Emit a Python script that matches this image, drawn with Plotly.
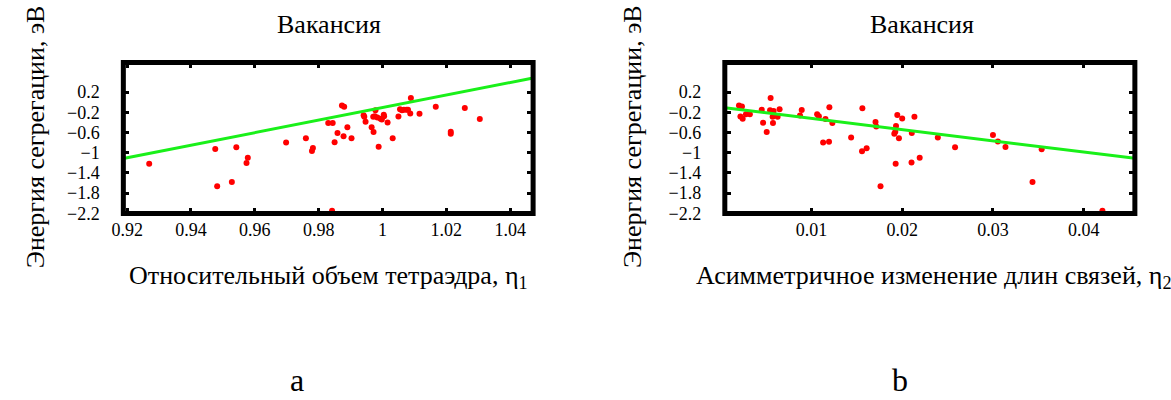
import plotly.graph_objects as go

# ---------------- data ----------------
# panel a: relative tetrahedron volume eta1 vs segregation energy
eta1 = [0.9269, 0.9476, 0.9482, 0.9528, 0.9542, 0.9578, 0.9574, 0.9698, 0.9760, 0.9782,
        0.9779, 0.9830, 0.9844, 0.9850, 0.9859, 0.9873, 0.9880, 0.9878, 0.9890, 0.9903,
        0.9842, 0.9941, 0.9943, 0.9947, 0.9966, 0.9972, 0.9978, 0.9971, 0.9976, 0.9984,
        0.9988, 0.9994, 0.9998, 1.0004, 1.0005, 1.0016, 1.0032, 1.0050, 1.0055, 1.0061,
        1.0067, 1.0075, 1.0080, 1.0089, 1.0087, 1.0116, 1.0167, 1.0214, 1.0214, 1.0258,
        1.0305, 0.9175, 1.0485]
energy_a = [-1.221, -0.925, -1.665, -1.582, -0.893, -1.099, -1.202, -0.796, -0.713, -0.906,
            -0.964, -0.410, -0.410, -0.790, -0.611, -0.063, -0.090, -0.675, -0.493, -0.712,
            -2.150, -0.256, -0.288, -0.385, -0.493, -0.591, -0.159, -0.288, -0.276, -0.302,
            -0.881, -0.327, -0.340, -0.249, -0.276, -0.399, -0.712, -0.282, -0.140, -0.159,
            -0.147, -0.147, -0.147, 0.084, -0.223, -0.230, -0.087, -0.585, -0.624, -0.115,
            -0.333, -2.235, -0.790]

# panel b: asymmetric bond-length change eta2 vs segregation energy
eta2 = [0.00199, 0.00232, 0.00215, 0.00240, 0.00276, 0.00319, 0.00450, 0.00465, 0.00505, 0.00548,
        0.00542, 0.00581, 0.00570, 0.00574, 0.00625, 0.00647, 0.00872, 0.00891, 0.01061, 0.01080,
        0.01127, 0.01153, 0.01192, 0.01196, 0.01229, 0.01436, 0.01556, 0.01560, 0.01607, 0.01705,
        0.01713, 0.01760, 0.01912, 0.01923, 0.01931, 0.01927, 0.01945, 0.01963, 0.01999, 0.02102,
        0.02105, 0.02134, 0.02192, 0.02392, 0.02582, 0.03000, 0.03054, 0.03138, 0.03436, 0.03537,
        0.04207, 0.01550, 0.00000]
energy_b = [-0.063, -0.082, -0.282, -0.327, -0.237, -0.237, -0.147, -0.404, -0.591, 0.084,
            -0.159, -0.173, -0.288, -0.410, -0.288, -0.140, -0.263, -0.153, -0.237, -0.275,
            -0.796, -0.333, -0.785, -0.101, -0.410, -0.700, -0.971, -0.121, -0.913, -0.391,
            -0.481, -1.665, -0.622, -0.584, -0.469, -1.221, -0.250, -0.713, -0.321, -1.196,
            -0.611, -0.288, -1.099, -0.700, -0.893, -0.649, -0.777, -0.887, -1.582, -0.931,
            -2.150, -2.235, -0.321]

# linear fits: energy = intercept + slope * eta
fit_a = {"intercept": -12.526, "slope": 12.42}
fit_b = {"intercept": -0.099, "slope": -22.17}

# axis ranges
xrange_a = [0.9188, 1.0472]
xrange_b = [0.00043, 0.04565]
yrange = [-2.205, 0.79]

# tick labels
xticks_a = [0.92, 0.94, 0.96, 0.98, 1.0, 1.02, 1.04]
xticktext_a = ["0.92", "0.94", "0.96", "0.98", "1", "1.02", "1.04"]
xticks_b = [0.01, 0.02, 0.03, 0.04]
xticktext_b = ["0.01", "0.02", "0.03", "0.04"]
yticks = [0.2, -0.2, -0.6, -1.0, -1.4, -1.8, -2.2]
yticktext = ["0.2", "\u22120.2", "\u22120.6", "\u22121", "\u22121.4", "\u22121.8", "\u22122.2"]

title_text = "Вакансия"
ylabel = "Энергия сегрегации, эВ"
xlabel_a = "Относительный объем тетраэдра, η<sub>1</sub>"
xlabel_b = "Асимметричное изменение длин связей, η<sub>2</sub>"
panel_labels = ["a", "b"]

# ---------------- figure ----------------
W, H = 1171, 400
FONT = "Liberation Serif, Times New Roman, serif"
RED = "#ff0000"
GREEN = "#19f019"


def fx(px):
    return px / W


def fy(py):
    return 1 - py / H


dom_ax = [fx(112.5), fx(526.5)]
dom_bx = [fx(720.2), fx(1134.5)]
dom_y = [fy(219.0), fy(64.0)]

fig = go.Figure()

fig.add_trace(go.Scatter(x=eta1, y=energy_a, mode="markers", xaxis="x", yaxis="y",
                         marker=dict(color=RED, size=6, line=dict(width=0)), showlegend=False))
fig.add_trace(go.Scatter(x=xrange_a,
                         y=[fit_a["intercept"] + fit_a["slope"] * v for v in xrange_a],
                         mode="lines", xaxis="x", yaxis="y",
                         line=dict(color=GREEN, width=3), showlegend=False))

fig.add_trace(go.Scatter(x=eta2, y=energy_b, mode="markers", xaxis="x2", yaxis="y2",
                         marker=dict(color=RED, size=6, line=dict(width=0)), showlegend=False))
fig.add_trace(go.Scatter(x=xrange_b,
                         y=[fit_b["intercept"] + fit_b["slope"] * v for v in xrange_b],
                         mode="lines", xaxis="x2", yaxis="y2",
                         line=dict(color=GREEN, width=3), showlegend=False))

# empty traces so the overlay (inside-tick) axes exist
for xa, ya in (("x3", "y3"), ("x4", "y4")):
    fig.add_trace(go.Scatter(x=[], y=[], xaxis=xa, yaxis=ya, showlegend=False,
                             hoverinfo="skip"))

tickfont = dict(family=FONT, size=18, color="black")
# label axes: transparent outside ticks act as spacing for the labels
label_ax = dict(showgrid=False, zeroline=False, showline=False, ticks="outside",
                tickcolor="rgba(0,0,0,0)", tickwidth=1, tickfont=tickfont,
                fixedrange=True)
# tick axes: visible inside ticks on all four sides, no labels
tick_ax = dict(showgrid=False, zeroline=False, showline=False, ticks="inside",
               ticklen=6, tickwidth=3, tickcolor="black", mirror="ticks",
               showticklabels=False, fixedrange=True)

fig.update_layout(
    width=W, height=H,
    margin=dict(l=0, r=0, t=0, b=0),
    paper_bgcolor="white", plot_bgcolor="white",
    xaxis=dict(domain=dom_ax, range=xrange_a, anchor="y", tickvals=xticks_a,
               ticktext=xticktext_a, ticklen=0, **label_ax),
    yaxis=dict(domain=dom_y, range=yrange, anchor="x", tickvals=yticks,
               ticktext=yticktext, ticklen=19, **label_ax),
    xaxis2=dict(domain=dom_bx, range=xrange_b, anchor="y2", tickvals=xticks_b,
                ticktext=xticktext_b, ticklen=0, **label_ax),
    yaxis2=dict(domain=dom_y, range=yrange, anchor="x2", tickvals=yticks,
                ticktext=yticktext, ticklen=19, **label_ax),
    xaxis3=dict(overlaying="x", range=xrange_a, anchor="y", tickvals=xticks_a, **tick_ax),
    yaxis3=dict(overlaying="y", range=yrange, anchor="x", tickvals=yticks, **tick_ax),
    xaxis4=dict(overlaying="x2", range=xrange_b, anchor="y2", tickvals=xticks_b, **tick_ax),
    yaxis4=dict(overlaying="y2", range=yrange, anchor="x2", tickvals=yticks, **tick_ax),
)

# thick frames
for xr, yr in (("x domain", "y domain"), ("x2 domain", "y2 domain")):
    fig.add_shape(type="rect", xref=xr, yref=yr, x0=0, x1=1, y0=0, y1=1,
                  line=dict(color="black", width=5), layer="above")

titlefont = dict(family=FONT, size=26, color="black")
labfont = dict(family=FONT, size=26, color="black")
ann = []
for cx_title, cx_xlab, cx_ylab, xl in ((320, 320, 24, xlabel_a), (919, 931, 627, xlabel_b)):
    ann.append(dict(text=title_text, x=fx(cx_title), y=fy(25), xref="paper", yref="paper",
                    showarrow=False, xanchor="center", yanchor="middle", font=titlefont))
    ann.append(dict(text=xl, x=fx(cx_xlab), y=fy(284), xref="paper", yref="paper",
                    showarrow=False, xanchor="center", yanchor="middle", font=labfont))
    ann.append(dict(text=ylabel, x=fx(cx_ylab), y=fy(140), xref="paper", yref="paper",
                    showarrow=False, xanchor="center", yanchor="middle", textangle=-90,
                    font=labfont))
for lab, cx in zip(panel_labels, (288, 897)):
    ann.append(dict(text=lab, x=fx(cx), y=0, xref="paper", yref="paper",
                    showarrow=False, xanchor="center", yanchor="bottom", yshift=-10,
                    font=dict(family=FONT, size=32, color="black")))
fig.update_layout(annotations=ann)

fig.write_html("out.html", config={"displayModeBar": False},
               post_script="document.body.style.margin='0px';")
